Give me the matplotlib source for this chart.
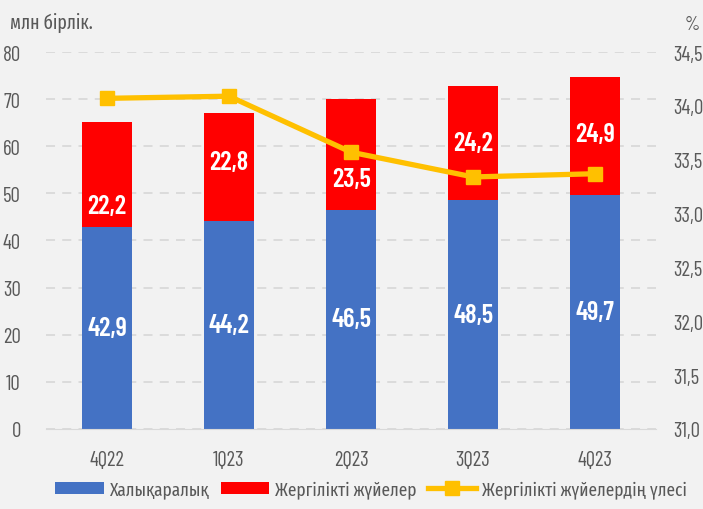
import matplotlib.pyplot as plt
import numpy as np

quarters = ['4Q22', '1Q23', '2Q23', '3Q23', '4Q23']
international = [42.9, 44.2, 46.5, 48.5, 49.7]
local = [22.2, 22.8, 23.5, 24.2, 24.9]
local_share = [34.07, 34.09, 33.57, 33.34, 33.37]

# label shifts inside the red segments (as placed in the original)
red_label_shift = [-6.7, 1.1, -5.3, 0.0, 0.5]

num_font = ['Barlow Condensed', 'Fira Sans Extra Condensed', 'DejaVu Sans']
txt_font = ['Fira Sans Extra Condensed', 'DejaVu Sans']
plt.rcParams['font.family'] = num_font
bg = '#f2f2f2'
txt = '#595959'

fig = plt.figure(figsize=(7.03, 5.10), dpi=100, facecolor=bg)
ax = fig.add_axes([0.0654, 0.157, 0.868, 0.739], facecolor=bg)
ax2 = ax.twinx()

x = np.arange(len(quarters))
w = 0.41
b1 = ax.bar(x, international, w, color='#4472c4', label='Халықаралық', zorder=2)
b2 = ax.bar(x, local, w, bottom=international, color='#ff0000', label='Жергілікті жүйелер', zorder=2)

for i in range(len(x)):
    ax.text(x[i], international[i] / 2, f'{international[i]:.1f}'.replace('.', ','),
            ha='center', va='center', color='white', fontsize=19, fontweight=600, zorder=3)
    ax.text(x[i], international[i] + local[i] / 2 + red_label_shift[i],
            f'{local[i]:.1f}'.replace('.', ','),
            ha='center', va='center', color='white', fontsize=19, fontweight=600, zorder=3)

ln, = ax2.plot(x, local_share, color='#ffc000', lw=3.8, marker='s', ms=10,
               label='Жергілікті жүйелердің үлесі', zorder=4)

ax.set_ylim(0, 80)
ax.set_yticks(range(0, 81, 10))
ax.set_xlim(-0.5, 4.5)
ax.set_xticks(x)
ax.set_xticklabels(quarters)
ticks2 = np.arange(31.0, 34.51, 0.5)
ax2.set_ylim(31.0, 34.5)
ax2.set_yticks(ticks2)
ax2.set_yticklabels([f'{v:.1f}'.replace('.', ',') for v in ticks2])

ax.grid(axis='y', color='#d9d9d9', ls=(0, (5, 4)), lw=1.3, zorder=0)
ax.set_axisbelow(True)
for a in (ax, ax2):
    for s in a.spines.values():
        s.set_visible(False)
    a.tick_params(length=0, labelsize=15, colors=txt)
ax.tick_params(axis='y', pad=18)
ax2.tick_params(axis='y', pad=12)
ax.spines['bottom'].set_visible(True)
ax.spines['bottom'].set_color('#d9d9d9')
ax.tick_params(axis='x', pad=15)
ax2.set_zorder(ax.get_zorder() + 1)
ax2.patch.set_visible(False)

fig.text(0.014, 0.955, 'млн бірлік.', fontsize=14, color=txt, ha='left', va='center',
         family=txt_font)
fig.text(0.985, 0.950, '%', fontsize=14, color=txt, ha='center', va='center')

fig.legend(handles=[b1, b2, ln], loc='lower center', bbox_to_anchor=(0.528, -0.012),
           ncol=3, frameon=False, prop={'family': txt_font, 'size': 13.5},
           labelcolor=txt, handlelength=2.6, handleheight=0.65,
           handletextpad=0.3, columnspacing=0.6)

fig.savefig('out.png', dpi=100, facecolor=bg)
